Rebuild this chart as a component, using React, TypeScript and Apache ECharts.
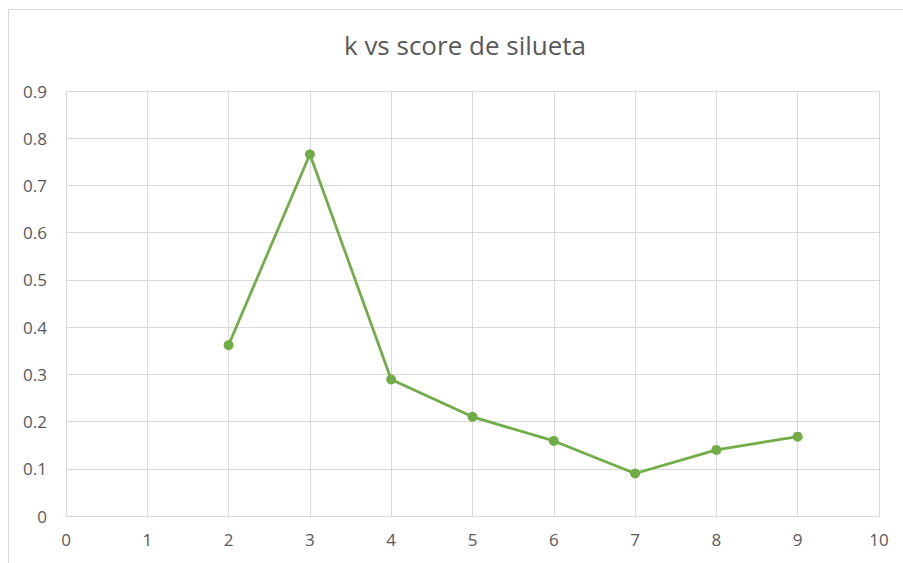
import React, { useEffect, useRef } from "react";
import * as echarts from "echarts";

const kValues = [2, 3, 4, 5, 6, 7, 8, 9];
const silhouetteScores = [0.362, 0.766, 0.289, 0.21, 0.159, 0.09, 0.14, 0.168];
const titleText = "k vs score de silueta";

export default function App() {
  const ref = useRef<HTMLDivElement>(null);
  useEffect(() => {
    if (!ref.current) return;
    const chart = echarts.init(ref.current, undefined, { renderer: "svg" });
    const font = "Open Sans, Liberation Sans, sans-serif";
    chart.setOption({
      animation: false,
      backgroundColor: "#ffffff",
      title: {
        text: titleText,
        left: 460,
        textAlign: "center",
        top: 27,
        textStyle: { fontFamily: font, fontSize: 26, fontWeight: "normal", color: "#595959" },
      },
      graphic: [
        {
          type: "rect",
          shape: { x: 8.5, y: 9.5, width: 1000, height: 1000 },
          style: { fill: "none", stroke: "#D9D9D9", lineWidth: 1 },
          silent: true,
        },
      ],
      grid: { left: 66, top: 91, right: 24, bottom: 47, containLabel: false },
      xAxis: {
        type: "value",
        min: 0,
        max: 10,
        interval: 1,
        axisLine: { show: true, lineStyle: { color: "#D9D9D9", width: 1 } },
        axisTick: { show: false },
        splitLine: { show: true, lineStyle: { color: "#D9D9D9", width: 1 } },
        axisLabel: { fontFamily: font, fontSize: 17, color: "#595959", margin: 15 },
      },
      yAxis: {
        type: "value",
        min: 0,
        max: 0.9,
        interval: 0.1,
        axisLine: { show: true, lineStyle: { color: "#D9D9D9", width: 1 } },
        axisTick: { show: false },
        splitLine: { show: true, lineStyle: { color: "#D9D9D9", width: 1 } },
        axisLabel: {
          fontFamily: font,
          fontSize: 17,
          color: "#595959",
          margin: 19,
          formatter: (v: number) => String(Math.round(v * 10) / 10),
        },
      },
      series: [
        {
          type: "line",
          data: kValues.map((k, i) => [k, silhouetteScores[i]]),
          symbol: "circle",
          symbolSize: 10,
          lineStyle: { color: "#70AD47", width: 2.75 },
          itemStyle: { color: "#70AD47" },
        },
      ],
    });
    return () => chart.dispose();
  }, []);
  return (
    <div
      ref={ref}
      style={{ position: "fixed", left: 0, top: 0, width: 903, height: 563 }}
    />
  );
}
